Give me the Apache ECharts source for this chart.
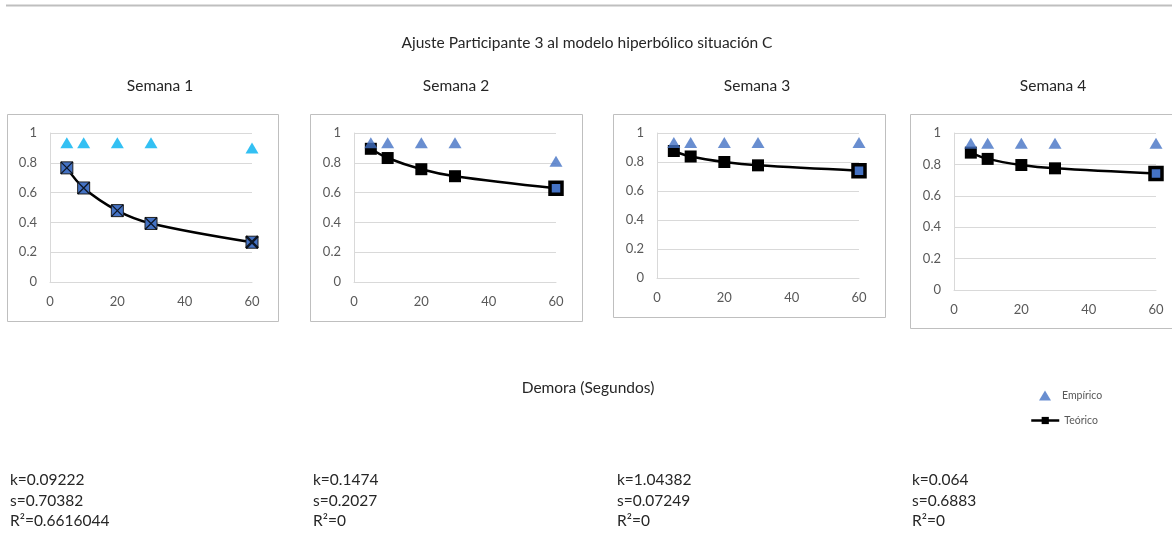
<!DOCTYPE html>
<html>
<head>
<meta charset="utf-8">
<script src="https://cdn.jsdelivr.net/npm/echarts@6/dist/echarts.min.js"></script>
<style>
  html, body { margin: 0; padding: 0; background: #fff; }
  #chart { width: 1172px; height: 552px; }
</style>
</head>
<body>
<div id="chart"></div>
<script>
// Delays (seconds) shared by every week
const delays = [5, 10, 20, 30, 60];

// Observed (empirical) values per week
const empirico1 = [0.935, 0.935, 0.935, 0.935, 0.90];
const empirico2 = [0.935, 0.935, 0.935, 0.935, 0.81];
const empirico3 = [0.935, 0.935, 0.935, 0.935, 0.935];
const empirico4 = [0.935, 0.935, 0.935, 0.935, 0.935];

// Fitted hyperbolic model values per week
const teorico1 = [0.766, 0.631, 0.479, 0.393, 0.267];
const teorico2 = [0.894, 0.832, 0.757, 0.710, 0.629];
const teorico3 = [0.876, 0.838, 0.800, 0.777, 0.740];
const teorico4 = [0.875, 0.835, 0.796, 0.775, 0.742];

const weekTitles = ['Semana 1', 'Semana 2', 'Semana 3', 'Semana 4'];
const fitParams = [
  ['k=0.09222', 's=0.70382', 'R\u00b2=0.6616044'],
  ['k=0.1474', 's=0.2027', 'R\u00b2=0'],
  ['k=1.04382', 's=0.07249', 'R\u00b2=0'],
  ['k=0.064', 's=0.6883', 'R\u00b2=0']
];
const mainTitle = 'Ajuste Participante 3 al modelo hiperb\u00f3lico situaci\u00f3n C';
const xTitle = 'Demora (Segundos)';
const xTicks = { min: 0, max: 60, interval: 20 };
const yTicks = { min: 0, max: 1, interval: 0.2 };

const FONT = 'Lato, "Liberation Sans", sans-serif';
const TEXT = '#262626';
const AXIS_TEXT = '#595959';
const GRID_LINE = '#d9d9d9';
const BLUE = '#4472C4';
const CYAN = '#00B0F0';
const TEXT_FONT = '15.5px ' + FONT;

// Layout of each small multiple: plot grid and surrounding frame
const panels = [
  { grid: { left: 50, top: 133, width: 202, height: 149 }, frame: [7, 114, 271, 207], titleX: 160, textX: 10 },
  { grid: { left: 354, top: 133, width: 202, height: 149 }, frame: [310, 114, 272, 207], titleX: 456, textX: 313 },
  { grid: { left: 657, top: 133, width: 202, height: 145 }, frame: [613, 114, 272, 203], titleX: 757, textX: 617 },
  { grid: { left: 954, top: 133, width: 202, height: 157 }, frame: [910, 114, 270, 214], titleX: 1053, textX: 912 }
];

const empiricos = [empirico1, empirico2, empirico3, empirico4];
const teoricos = [teorico1, teorico2, teorico3, teorico4];

const pairs = arr => delays.map((d, i) => [d, arr[i]]);

const grids = [], xAxes = [], yAxes = [], series = [], graphics = [];

panels.forEach((p, i) => {
  grids.push(Object.assign({ containLabel: false }, p.grid));
  xAxes.push({
    gridIndex: i, type: 'value',
    min: xTicks.min, max: xTicks.max, interval: xTicks.interval,
    axisLine: { show: true, lineStyle: { color: GRID_LINE, width: 1 } },
    axisTick: { show: false },
    splitLine: { show: false },
    axisLabel: { color: AXIS_TEXT, fontSize: 13, fontFamily: FONT, margin: 13 }
  });
  yAxes.push({
    gridIndex: i, type: 'value',
    min: yTicks.min, max: yTicks.max, interval: yTicks.interval,
    axisLine: { show: true, lineStyle: { color: GRID_LINE, width: 1 } },
    axisTick: { show: false },
    splitLine: { show: true, lineStyle: { color: GRID_LINE, width: 1 } },
    axisLabel: { color: AXIS_TEXT, fontSize: 13, fontFamily: FONT, margin: 13 }
  });

  // Teórico: smoothed black curve with square markers
  const last = delays.length - 1;
  const teoData = pairs(teoricos[i]).map((pt, j) => {
    if (i === 0) {
      return { value: pt, itemStyle: { color: BLUE, borderColor: '#1f1f1f', borderWidth: 1 } };
    }
    if (j === last) {
      return { value: pt, itemStyle: { color: BLUE, borderColor: '#000', borderWidth: 3.5 } };
    }
    return { value: pt, itemStyle: { color: '#000', borderColor: '#000', borderWidth: 0 } };
  });
  series.push({
    name: 'Te\u00f3rico', type: 'line', xAxisIndex: i, yAxisIndex: i,
    data: teoData, smooth: 0.35,
    symbol: 'rect', symbolSize: 12,
    lineStyle: { color: '#000', width: 2.5 },
    itemStyle: { color: '#000' },
    z: 3, silent: true
  });

  // Week 1 markers carry a cross over the square
  if (i === 0) {
    series.push({
      name: 'Te\u00f3rico cruz', type: 'scatter', xAxisIndex: i, yAxisIndex: i,
      data: pairs(teoricos[i]).map((pt, j) => ({
        value: pt,
        itemStyle: { borderWidth: j === last ? 2.4 : 1.3 }
      })),
      symbol: 'path://M0,0L10,10M10,0L0,10', symbolSize: 12,
      itemStyle: { color: 'none', borderColor: '#000', borderWidth: 1.3 },
      z: 4, silent: true
    });
  }

  // Empírico: triangle markers
  series.push({
    name: 'Emp\u00edrico', type: 'scatter', xAxisIndex: i, yAxisIndex: i,
    data: pairs(empiricos[i]),
    symbol: 'triangle', symbolSize: [13, 11],
    itemStyle: { color: i === 0 ? CYAN : BLUE },
    z: 5, silent: true
  });

  // Frame around each panel
  graphics.push({
    type: 'rect', silent: true, z: -1,
    shape: { x: p.frame[0] + 0.5, y: p.frame[1] + 0.5, width: p.frame[2], height: p.frame[3] },
    style: { fill: '#fff', stroke: '#bfbfbf', lineWidth: 1 }
  });
  // Week caption
  graphics.push({
    type: 'text', silent: true,
    style: { text: weekTitles[i], x: p.titleX, y: 86, align: 'center', verticalAlign: 'middle',
             fill: TEXT, font: TEXT_FONT }
  });
  // Fitted parameters below the panels
  fitParams[i].forEach((line, j) => {
    graphics.push({
      type: 'text', silent: true,
      style: { text: line, x: p.textX, y: 480 + j * 20.5, align: 'left', verticalAlign: 'middle',
               fill: TEXT, font: TEXT_FONT }
    });
  });
});

// Main title, shared axis title and top rule
graphics.push(
  { type: 'line', silent: true, shape: { x1: 6, y1: 5.5, x2: 1172, y2: 5.5 },
    style: { stroke: '#bfbfbf', lineWidth: 2 } },
  { type: 'text', silent: true,
    style: { text: mainTitle, x: 587, y: 43, align: 'center', verticalAlign: 'middle',
             fill: TEXT, font: TEXT_FONT } },
  { type: 'text', silent: true,
    style: { text: xTitle, x: 588, y: 388, align: 'center', verticalAlign: 'middle',
             fill: TEXT, font: TEXT_FONT } }
);

const legendText = { color: AXIS_TEXT, fontSize: 10.5, fontFamily: FONT };

const chart = echarts.init(document.getElementById('chart'), null, { renderer: 'canvas' });
chart.setOption({
  backgroundColor: '#fff',
  animation: false,
  grid: grids,
  xAxis: xAxes,
  yAxis: yAxes,
  series: series,
  graphic: graphics,
  legend: [
    {
      orient: 'vertical', left: 1034, top: 385,
      itemWidth: 12, itemHeight: 10,
      textStyle: Object.assign({ padding: [0, 0, 0, 6] }, legendText),
      data: [{ name: 'Emp\u00edrico', icon: 'triangle', itemStyle: { color: BLUE } }]
    },
    {
      orient: 'vertical', left: 1025, top: 410,
      itemWidth: 28, itemHeight: 9,
      textStyle: legendText,
      data: [{ name: 'Te\u00f3rico', itemStyle: { color: '#000' }, lineStyle: { color: '#000', width: 2.5 } }]
    }
  ]
});
</script>
</body>
</html>
